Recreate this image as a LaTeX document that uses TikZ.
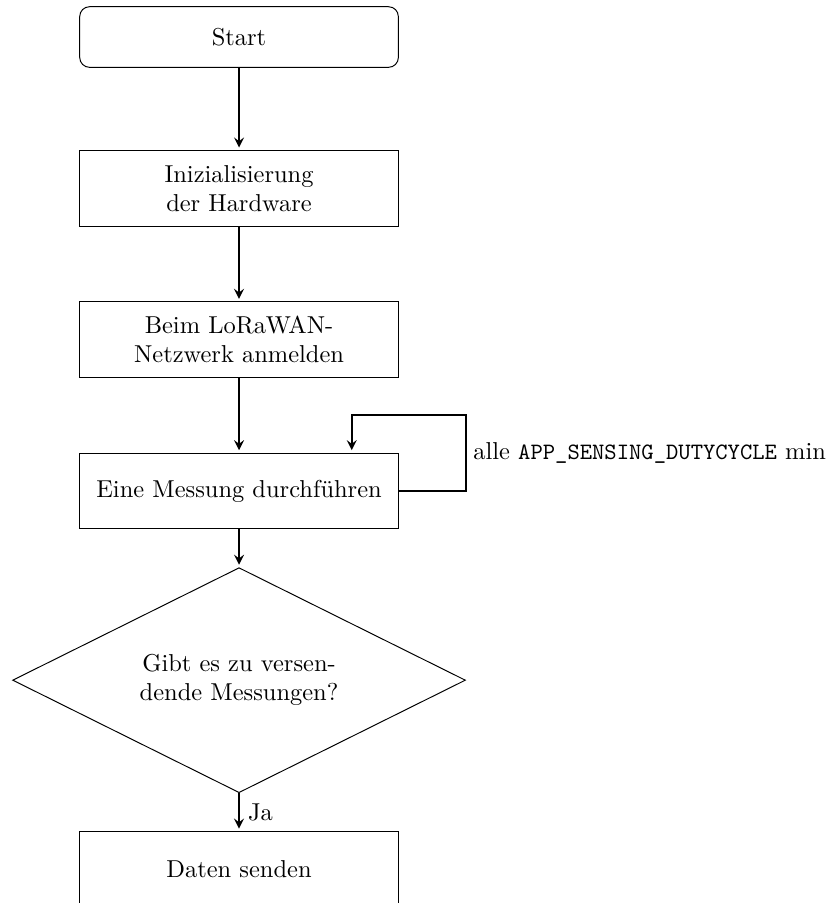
\documentclass[tikz,border=0pt]{standalone}
\usetikzlibrary{shapes.geometric}

\begin{document}
\begin{tikzpicture}[-,>=stealth,shorten >=1pt,auto,node distance=2.175cm,thick,
  main node/.style={rectangle,draw,thin,align=center,minimum width=4.58cm,minimum height=1.088cm},
  start node/.style={main node,rounded corners,minimum height=0.871cm},
  decision node/.style={diamond,draw,thin,align=center,aspect=2,inner sep=0pt,minimum width=6.51cm,minimum height=3.235cm}]
            \useasboundingbox (0,0) rectangle (11.96,-12.98);

            \node[start node] (1) at (3.436,-0.532) {Start};
            \node[main node] (2) [below of = 1] {Inizialisierung\\der Hardware};
            \node[main node] (3) [below of = 2] {Beim LoRaWAN-\\Netzwerk anmelden};
            \node[main node] (4) [below of = 3] {Eine Messung durchführen};
            \node[decision node] (5) [below of = 4, node distance=2.72cm] {Gibt es zu versen-\\dende Messungen?};
            \node[main node] (6) [below of = 5, node distance=2.72cm] {Daten senden};

            \path[->]
                (1) edge (2)
                (2) edge (3)
                (3) edge (4)
                (4) edge (5)
                (5) edge node {Ja} (6)
            ;

            % Schleife
            \draw[->] (4.east) -- ++(0.97,0) |- node[pos=0.25,right,inner sep=2.5pt] {alle {\ttfamily\fontsize{9.6pt}{12pt}\selectfont APP\_SENSING\_DUTYCYCLE} min} ([xshift=1.62cm,yshift=0.54cm]4.north) -- ([xshift=1.62cm]4.north);
        \end{tikzpicture}
\end{document}
